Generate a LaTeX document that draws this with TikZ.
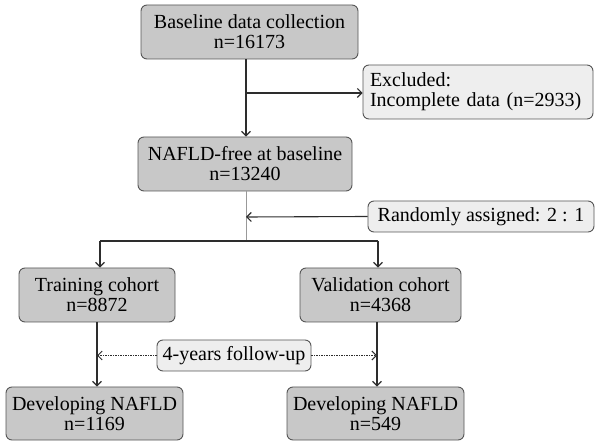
\documentclass[tikz,border=0pt]{standalone}
\usepackage{fontspec}
\setmainfont{Liberation Serif}
\usetikzlibrary{arrows.meta,calc}
\definecolor{boxdark}{RGB}{200,200,200}
\definecolor{boxlight}{RGB}{238,238,238}
\definecolor{edge}{RGB}{85,85,85}
\definecolor{linec}{RGB}{45,45,45}
\begin{document}
\begin{tikzpicture}[x=1pt,y=-1pt,
  base/.style={draw=edge,line width=0.9pt,rounded corners=6pt,inner sep=0pt,
    font=\fontsize{20}{20}\selectfont,align=center},
  mainbox/.style={base,fill=boxdark},
  sidebox/.style={base,fill=boxlight},
  arr/.style={draw=linec,line width=1.1pt,-{Straight Barb[length=4.5pt,width=9pt]}},
  plainline/.style={draw=gray!80,line width=0.9pt},
  dotarr/.style={draw=linec,line width=1pt,dash pattern=on 1.5pt off 1pt,-{Straight Barb[length=4.5pt,width=9pt]}}]
\useasboundingbox (0,0) rectangle (600,446);
\node[mainbox,minimum width=217pt,minimum height=54pt] (b1) at (249.5,32) {Baseline data collection\\n=16173};
\node[sidebox,minimum width=230pt,minimum height=54pt,text width=216pt,align=left] (ex) at (478,92) {Excluded:\\Incomplete data (n=2933)};
\node[mainbox,minimum width=214pt,minimum height=54pt] (b2) at (245,164) {NAFLD-free at baseline\\n=13240};
\node[sidebox,minimum width=226pt,minimum height=31pt] (rnd) at (481,216.5) {Randomly assigned: 2 : 1};
\node[mainbox,minimum width=156pt,minimum height=54pt] (tr) at (97,295) {Training cohort\\n=8872};
\node[mainbox,minimum width=161pt,minimum height=54pt] (va) at (380.5,295) {Validation cohort\\n=4368};
\node[sidebox,minimum width=154pt,minimum height=31pt] (fu) at (234,355.5) {4-years follow-up};
\node[mainbox,minimum width=177pt,minimum height=53pt] (d1) at (94.5,413.5) {Developing NAFLD\\n=1169};
\node[mainbox,minimum width=177pt,minimum height=53pt] (d2) at (375.5,413.5) {Developing NAFLD\\n=549};
\coordinate (c1) at (246,93);
\coordinate (c2) at (246,217);
\coordinate (c3) at (246,241);
\coordinate (cl) at (100,241);
\coordinate (cr) at (378,241);
\coordinate (tl) at (97,322);
\coordinate (vl) at (377,322);
\draw[arr] (c1 |- b1.south) -- (c1 |- b2.north);
\draw[arr] (c1) -- (c1 -| ex.west);
\draw[plainline] (c1 |- b2.south) -- (c3);
\draw[arr] (rnd.west) -- (c2);
\draw[draw=linec,line width=1.1pt] (cl) -- (cr);
\draw[arr] (cl) -- (cl |- tr.north);
\draw[arr] (cr) -- (cr |- va.north);
\draw[arr] (tl) -- (tl |- d1.north);
\draw[arr] (vl) -- (vl |- d2.north);
\draw[dotarr] (fu.west) -- (fu.west -| tl);
\draw[dotarr] (fu.east) -- (fu.east -| vl);
\end{tikzpicture}
\end{document}
